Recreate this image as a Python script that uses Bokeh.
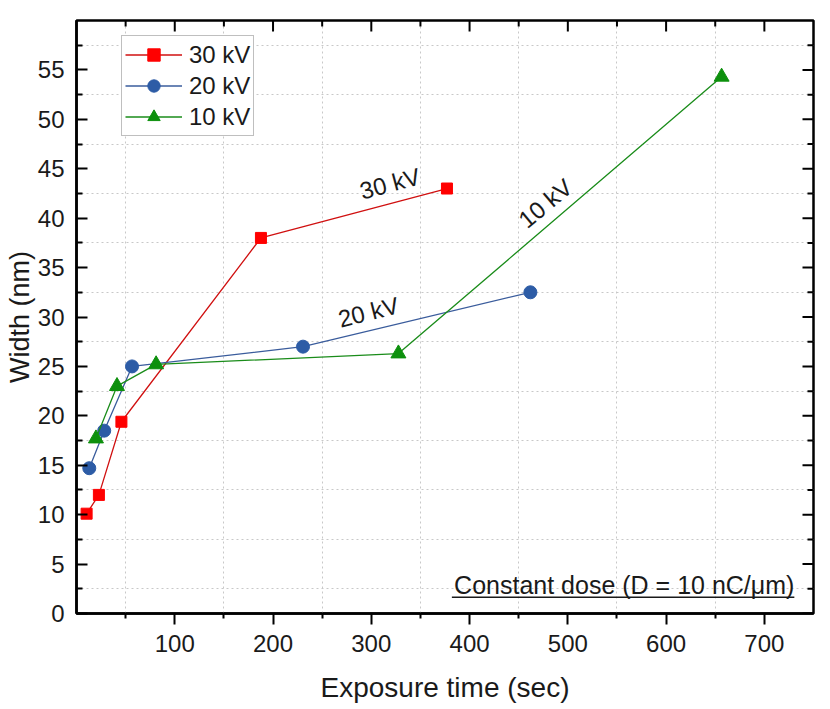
from bokeh.plotting import figure
from bokeh.models import FixedTicker, Legend, LegendItem, Range1d, ColumnDataSource
from bokeh.core.properties import value
from bokeh.embed import file_html
from bokeh.resources import INLINE

# ---- data ----
t_30kv = [10.3, 22.8, 45.7, 187.7, 377.0]
w_30kv = [10.1, 12.0, 19.4, 38.0, 43.0]
t_20kv = [13.0, 28.2, 56.5, 230.5, 461.9]
w_20kv = [14.7, 18.5, 25.0, 27.0, 32.5]
t_10kv = [19.8, 41.2, 81.0, 327.6, 656.5]
w_10kv = [17.7, 23.0, 25.2, 26.3, 54.3]

series_labels = ["30 kV", "20 kV", "10 kV"]
x_major = [100, 200, 300, 400, 500, 600, 700]
x_minor = [50, 150, 250, 350, 450, 550, 650]
y_major = [0, 5, 10, 15, 20, 25, 30, 35, 40, 45, 50, 55]
y_minor = [2.5, 7.5, 12.5, 17.5, 22.5, 27.5, 32.5, 37.5, 42.5, 47.5, 52.5, 57.5]

x_lim = (0, 750)
y_lim = (0, 60)

ann_text = ["30 kV", "20 kV", "10 kV"]
ann_x = [319, 297, 477]
ann_y = [43.5, 30.5, 41.5]
ann_angle = [15, 14, 40]

note_text = "Constant dose (D = 10 nC/\u03bcm)"
note_x = 730.5
note_y = 2.85
note_x0 = 382.0
note_uy = 1.65

FONT = "Liberation Sans"
TXT = "#1a1a1a"

p = figure(width=830, height=709, output_backend="svg", toolbar_location=None,
           x_range=Range1d(*x_lim), y_range=Range1d(*y_lim),
           min_border_left=76, min_border_right=17, min_border_top=20, min_border_bottom=96)
p.background_fill_color = "white"
p.border_fill_color = "white"
p.outline_line_color = "black"
p.outline_line_width = 2.5

# grids at the minor positions, dotted
p.xgrid.ticker = FixedTicker(ticks=x_minor)
p.ygrid.ticker = FixedTicker(ticks=y_minor)
for g in (p.xgrid, p.ygrid):
    g.grid_line_color = "#c8c8c8"
    g.grid_line_dash = "2 3"
    g.grid_line_width = 1

xa = p.xaxis[0]
xa.ticker = FixedTicker(ticks=x_major, minor_ticks=x_minor)
xa.axis_label = "Exposure time (sec)"
xa.major_tick_out = 11
xa.major_tick_in = 0
xa.minor_tick_out = 5
xa.minor_tick_in = 0
xa.major_label_standoff = 10
xa.axis_label_standoff = 17

ya = p.yaxis[0]
ya.ticker = FixedTicker(ticks=y_major, minor_ticks=y_minor)
ya.axis_label = "Width (nm)"
ya.major_tick_out = 0
ya.major_tick_in = 11
ya.minor_tick_out = 0
ya.minor_tick_in = 6
ya.major_label_standoff = 12
ya.axis_label_standoff = 0

for ax in (xa, ya):
    ax.axis_line_width = 2.5
    ax.axis_line_color = "black"
    ax.major_tick_line_width = 2
    ax.minor_tick_line_width = 2
    ax.major_tick_line_color = "black"
    ax.minor_tick_line_color = "black"
    ax.major_label_text_font = FONT
    ax.major_label_text_font_size = "24px"
    ax.major_label_text_color = TXT
    ax.axis_label_text_font = FONT
    ax.axis_label_text_font_style = "normal"
    ax.axis_label_text_color = TXT
xa.axis_label_text_font_size = "28px"
ya.axis_label_text_font_size = "27px"

# inward ticks on the top and right frame edges (outer half clipped by the frame)
p.scatter(x_major, [y_lim[1]] * len(x_major), marker="dash", size=22, angle=90, angle_units="deg",
          line_color="black", line_width=2)
p.scatter(x_minor, [y_lim[1]] * len(x_minor), marker="dash", size=12, angle=90, angle_units="deg",
          line_color="black", line_width=2)
p.scatter([x_lim[1]] * len(y_major), y_major, marker="dash", size=22, line_color="black", line_width=2)
p.scatter([x_lim[1]] * len(y_minor), y_minor, marker="dash", size=12, line_color="black", line_width=2)

# ---- series ----
l30 = p.line(t_30kv, w_30kv, line_color="#d01010", line_width=1.3)
s30 = p.scatter(t_30kv, w_30kv, marker="square", size=11, fill_color="#ff0000", line_color="#ff0000")
l20 = p.line(t_20kv, w_20kv, line_color="#3a5c9c", line_width=1.3)
s20 = p.scatter(t_20kv, w_20kv, marker="circle", size=13, fill_color="#2d5ca6", line_color="#2d5ca6")
l10 = p.line(t_10kv, w_10kv, line_color="#1a8c1a", line_width=1.3)
s10 = p.scatter(t_10kv, w_10kv, marker="triangle", size=15, fill_color="#0d900d", line_color="#0d900d")

legend = Legend(items=[
    LegendItem(label=series_labels[0], renderers=[l30, s30]),
    LegendItem(label=series_labels[1], renderers=[l20, s20]),
    LegendItem(label=series_labels[2], renderers=[l10, s10]),
], location=(45, 477))
legend.label_text_font = FONT
legend.label_text_font_size = "24px"
legend.label_text_color = TXT
legend.glyph_width = 57
legend.glyph_height = 31
legend.label_height = 31
legend.label_standoff = 7
legend.spacing = 0
legend.padding = 3
legend.margin = 0
legend.border_line_color = "#808080"
legend.border_line_width = 1.2
legend.background_fill_alpha = 1
p.add_layout(legend)

# ---- annotations ----
ann_src = ColumnDataSource(dict(x=ann_x, y=ann_y, text=ann_text, angle=ann_angle))
p.text(x="x", y="y", text="text", angle="angle", angle_units="deg", source=ann_src,
       text_font=value(FONT), text_font_size="24px", text_color=TXT,
       text_align="center", text_baseline="middle")

p.text(x=[note_x], y=[note_y], text=[note_text], text_font=value(FONT), text_font_size="25px",
       text_color=TXT, text_align="right", text_baseline="middle")
p.segment(x0=[note_x0], y0=[note_uy], x1=[note_x], y1=[note_uy], line_color=TXT, line_width=1.5)

open("out.html", "w").write(file_html(p, INLINE))
